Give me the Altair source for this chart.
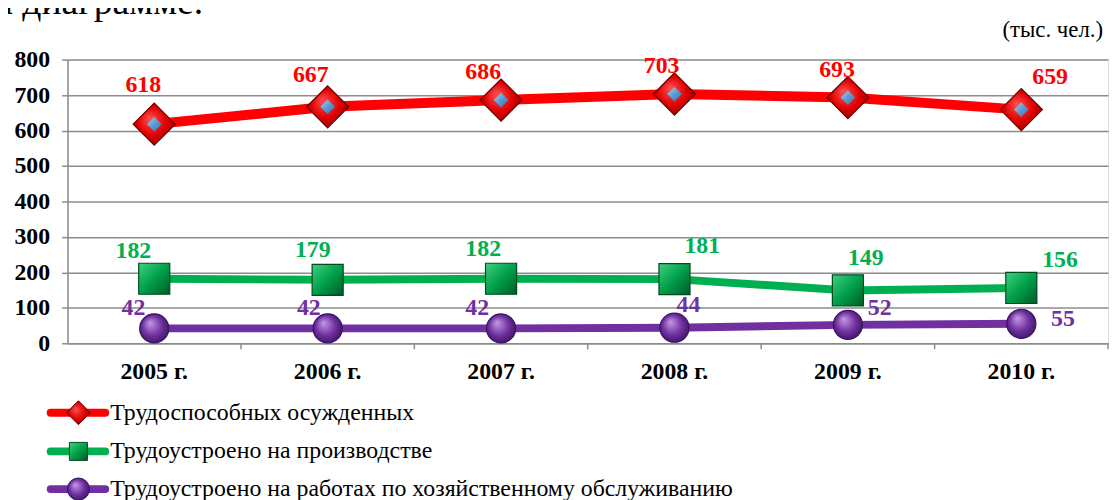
import altair as alt
import pandas as pd

# ---------------- data ----------------
years = ["2005 г.", "2006 г.", "2007 г.", "2008 г.", "2009 г.", "2010 г."]
able_bodied = [618, 667, 686, 703, 693, 659]
production = [182, 179, 182, 181, 149, 156]
service = [42, 42, 42, 44, 52, 55]
series_names = [
    "Трудоспособных осужденных",
    "Трудоустроено на производстве",
    "Трудоустроено на работах по хозяйственному обслуживанию",
]
unit_text = "(тыс. чел.)"
header_text = "а диаграмме."
y_ticks = [0, 100, 200, 300, 400, 500, 600, 700, 800]

# ---------------- layout (pixels) ----------------
W, H = 1049, 286
FONT = "Liberation Serif"
GRID = "#8c8c8c"
BOLD_SIZE = 24
label_dx = [
    [-11, -17, -18, -13, -11, 29],
    [-21, -15, -18, 28, 18, 39],
    [-21, -19, -24, 14, 32, 42],
]
label_dy = [
    [-39, -32, -28, -28, -28, -33],
    [-28, -30, -30, -33, -33, -28],
    [-20, -20, -20, -23, -17, -5],
]
colors = ["#ff0000", "#00b050", "#7030a0"]
line_widths = [10, 8, 8]

x_scale = alt.Scale(type="band", domain=years, paddingInner=0, paddingOuter=0)
x_axis = alt.Axis(title=None, labelAngle=0, ticks=False, domain=True,
                  domainColor=GRID, domainWidth=1.5, grid=False,
                  labelFont=FONT, labelFontSize=BOLD_SIZE, labelFontWeight="bold",
                  labelColor="black", labelPadding=16)
x_enc = alt.X("year:N", sort=years, scale=x_scale, axis=x_axis)
y_enc = alt.Y(
    "value:Q", scale=alt.Scale(domain=[0, 800], nice=False),
    axis=alt.Axis(title=None, values=y_ticks, grid=True, gridColor=GRID,
                  gridWidth=1.5, domain=True, domainColor=GRID, domainWidth=1.5,
                  ticks=True, tickColor=GRID, tickWidth=1.5, tickSize=6,
                  labelFont=FONT, labelFontSize=BOLD_SIZE, labelFontWeight="bold",
                  labelColor="black", labelPadding=12),
)


def radial(c0, c1, c2, cx=0.38, cy=0.35):
    return {
        "gradient": "radial", "x1": cx, "y1": cy, "r1": 0,
        "x2": 0.5, "y2": 0.5, "r2": 0.62,
        "stops": [{"offset": 0, "color": c0}, {"offset": 0.55, "color": c1},
                  {"offset": 1, "color": c2}],
    }


def linear(c0, c1, c2):
    return {
        "gradient": "linear", "x1": 0, "y1": 0, "x2": 1, "y2": 1,
        "stops": [{"offset": 0, "color": c0}, {"offset": 0.5, "color": c1},
                  {"offset": 1, "color": c2}],
    }


series_vals = [able_bodied, production, service]
layers = []

marker_specs = [
    dict(shape="diamond", size=1800, fill=radial("#ff5050", "#e00000", "#8a0000"), stroke="#6a0000"),
    dict(shape="square", size=980, fill=linear("#40d080", "#00a04a", "#005a28"), stroke="#004a20"),
    dict(shape="circle", size=860, fill=radial("#c49be6", "#7030a0", "#2e0f50", 0.35, 0.3), stroke="#3a1463"),
]
legend_specs = [
    dict(shape="diamond", size=580, fill=radial("#ff5050", "#e00000", "#8a0000"), stroke="#6a0000"),
    dict(shape="square", size=330, fill=linear("#40d080", "#00a04a", "#005a28"), stroke="#004a20"),
    dict(shape="circle", size=500, fill=radial("#c49be6", "#7030a0", "#2e0f50", 0.35, 0.3), stroke="#3a1463"),
]

for k in range(3):
    df = pd.DataFrame({"year": years, "value": series_vals[k]})
    base = alt.Chart(df)
    layers.append(
        base.mark_line(color=colors[k], strokeWidth=line_widths[k], strokeJoin="round")
        .encode(x=x_enc, y=y_enc)
    )
    spec = marker_specs[k]
    layers.append(
        base.mark_point(filled=True, shape=spec["shape"], size=spec["size"],
                        fill=spec["fill"], stroke=spec["stroke"], strokeWidth=1.2,
                        opacity=1).encode(x=x_enc, y=y_enc)
    )
    if k == 0:
        layers.append(
            base.mark_point(filled=True, shape="diamond", size=220,
                            fill=linear("#a8d0f0", "#5b9bd5", "#3a70a8"),
                            opacity=1).encode(x=x_enc, y=y_enc)
        )
    for i in range(len(years)):
        one = pd.DataFrame({"year": [years[i]], "value": [series_vals[k][i]]})
        layers.append(
            alt.Chart(one).mark_text(
                font=FONT, fontSize=BOLD_SIZE, fontWeight="bold", color=colors[k],
                dx=label_dx[k][i], dy=label_dy[k][i], align="center", baseline="middle",
            ).encode(x=x_enc, y=y_enc, text=alt.Text("value:Q"))
        )

# ticks at category boundaries on the x axis
tick_df = pd.DataFrame({"year": years})
layers.append(
    alt.Chart(tick_df).mark_rule(color=GRID, strokeWidth=1.5).encode(
        x=alt.X("year:N", sort=years, scale=x_scale, bandPosition=1, axis=x_axis),
        y=alt.value(H), y2=alt.value(H + 6),
    )
)

# ---------------- legend (manual, below plot) ----------------
legend_rows = [356, 395, 433]
for k in range(3):
    ldf = pd.DataFrame({"name": [series_names[k]]})
    lb = alt.Chart(ldf)
    yv = legend_rows[k]
    layers.append(
        lb.mark_rule(color=colors[k], strokeWidth=8, strokeCap="round").encode(
            x=alt.value(-17), x2=alt.value(38), y=alt.value(yv))
    )
    spec = legend_specs[k]
    layers.append(
        lb.mark_point(filled=True, shape=spec["shape"], size=spec["size"],
                      fill=spec["fill"], stroke=spec["stroke"], strokeWidth=1,
                      opacity=1).encode(x=alt.value(11), y=alt.value(yv))
    )
    layers.append(
        lb.mark_text(font=FONT, fontSize=24, color="black", align="left",
                     baseline="middle").encode(
            x=alt.value(43), y=alt.value(yv), text=alt.Text("name:N"))
    )

# unit text and cropped header
layers.append(
    alt.Chart(pd.DataFrame({"t": [unit_text]})).mark_text(
        font=FONT, fontSize=23, color="black", align="right", baseline="middle"
    ).encode(x=alt.value(1044), y=alt.value(-30), text="t:N")
)
layers.append(
    alt.Chart(pd.DataFrame({"t": [header_text]})).mark_text(
        font=FONT, fontSize=38, color="black", align="left", baseline="alphabetic"
    ).encode(x=alt.value(-72), y=alt.value(-46), text="t:N")
)

chart = (
    alt.layer(*layers)
    .properties(width=W, height=H,
                autosize=alt.AutoSizeParams(type="none"),
                padding={"left": 60, "top": 50, "right": 4, "bottom": 160})
    .configure_view(stroke=None)
    .configure(background="white")
)

chart.save("out.html", embed_options={"renderer": "svg", "actions": False})
